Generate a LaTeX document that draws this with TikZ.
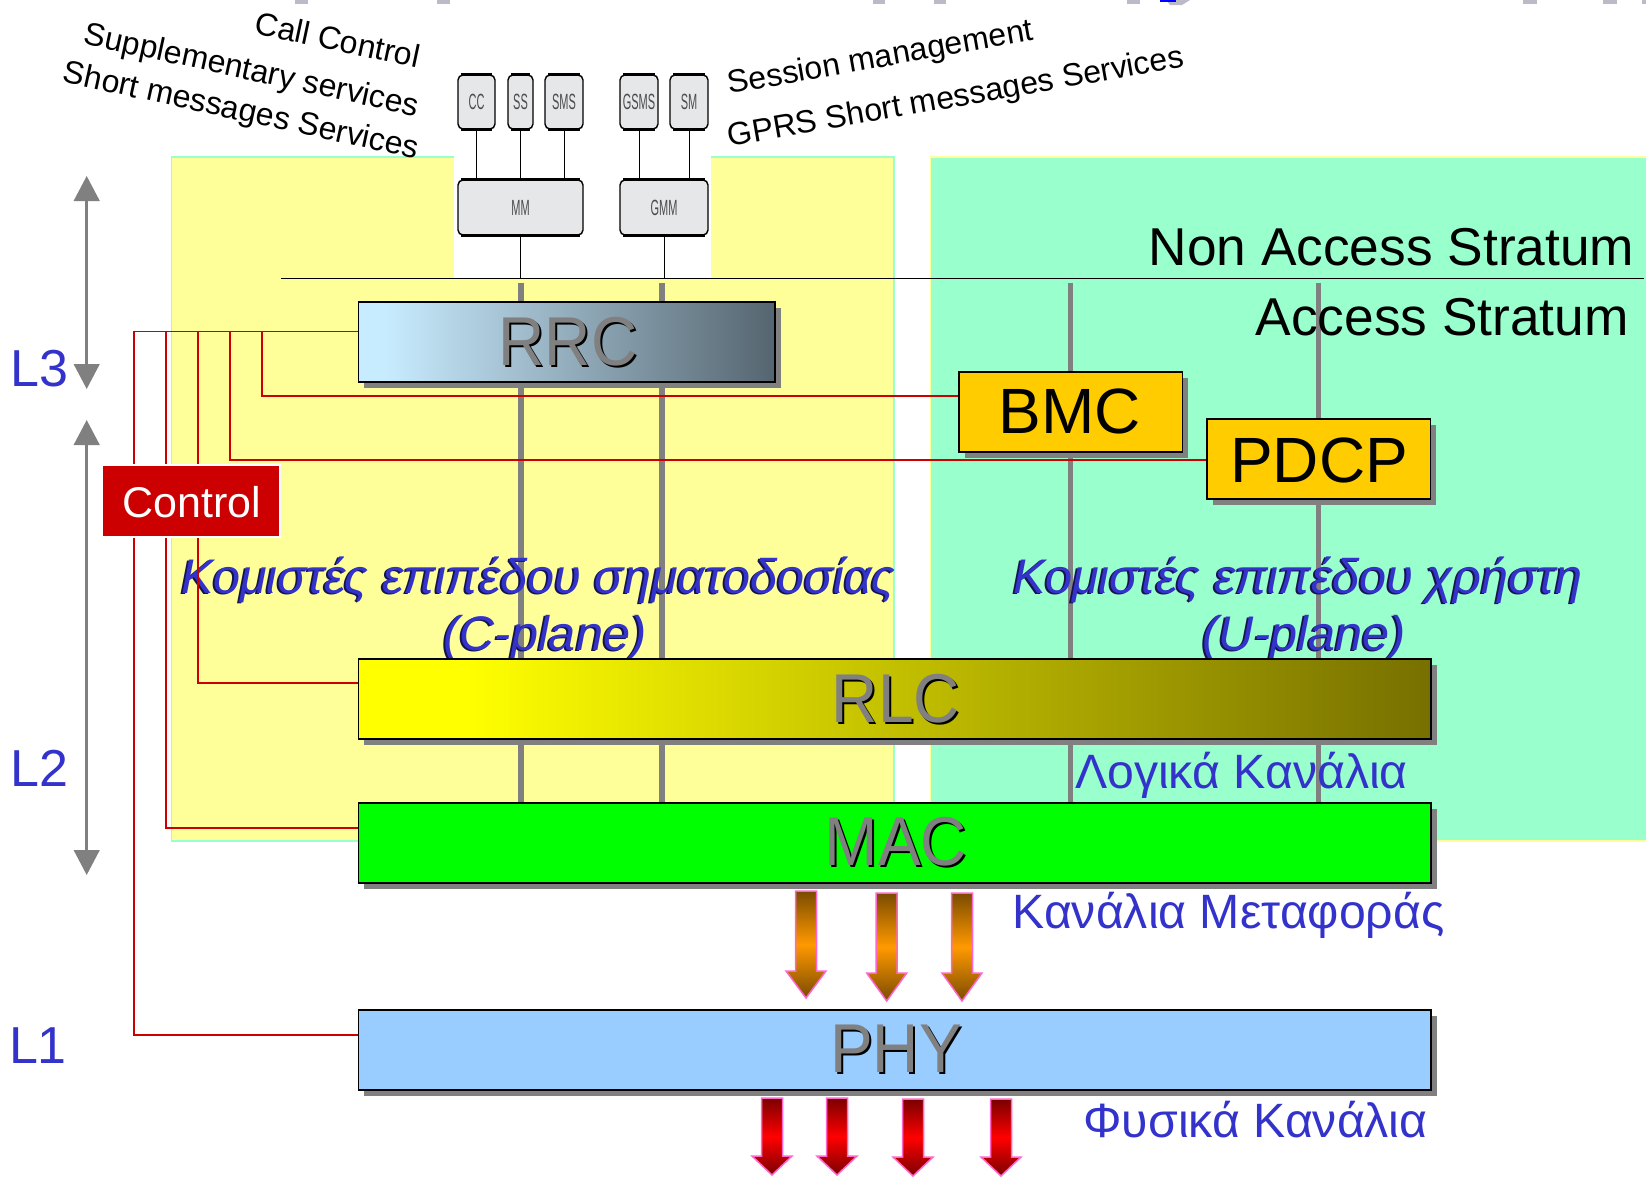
\documentclass[tikz,border=0pt]{standalone}
\usepackage{fontspec}
\setmainfont{Liberation Sans}
\usetikzlibrary{arrows.meta,shadows,calc}
\definecolor{blueT}{HTML}{3333CC}
\definecolor{shadowT}{HTML}{14144A}
\definecolor{yel}{HTML}{FFFF99}
\definecolor{grn}{HTML}{99FFCC}
\definecolor{gry}{HTML}{808080}
\definecolor{redL}{HTML}{CC0000}
\definecolor{pinkB}{HTML}{FF66CC}
\definecolor{rrcA}{HTML}{C8ECFF}
\definecolor{rrcB}{HTML}{A0BCCC}
\definecolor{rrcC}{HTML}{556570}
\definecolor{rlcA}{HTML}{FFFF00}
\definecolor{rlcB}{HTML}{777000}
\definecolor{orgD}{HTML}{7A4B00}
\definecolor{orgM}{HTML}{FF9900}
\definecolor{redD}{HTML}{7A0000}
\definecolor{redM}{HTML}{FF0000}
\definecolor{boxG}{HTML}{E6E7E9}
\definecolor{blob}{HTML}{BBBBC8}
\definecolor{macG}{HTML}{00FF00}
\definecolor{phyB}{HTML}{99CCFF}
\definecolor{amb}{HTML}{FFCC00}
\pgfdeclarehorizontalshading{rrcshade}{100bp}{color(0bp)=(rrcA); color(28bp)=(rrcA); color(45bp)=(rrcB); color(75bp)=(rrcC); color(100bp)=(rrcC)}
\pgfdeclarehorizontalshading{rlcshade}{100bp}{color(0bp)=(rlcA); color(30bp)=(rlcA); color(75bp)=(rlcB); color(100bp)=(rlcB)}
\newcommand{\fsz}[1]{\fontsize{#1}{#1}\selectfont}
\tikzset{
  layerbox/.style={draw=black,line width=1.5pt,inner sep=0pt,
    general shadow={fill=gry,shadow xshift=5.5pt,shadow yshift=-5.5pt}},
  label base/.style={inner sep=0pt,anchor=base},
  greyline/.style={draw=gry,line width=5.4pt},
  redline/.style={draw=redL,line width=1.4pt},
  thinline/.style={draw=black,line width=1pt},
  levelarrow/.style={draw=gry,line width=3pt,{Triangle[width=25.5pt,length=25pt]}-{Triangle[width=25.5pt,length=25pt]}},
  smallbox/.style={draw=black,line width=1.4pt,fill=boxG,rounded corners=5pt,inner sep=0pt},
  blacklabel/.style={inner sep=0pt,text=black,font=\fsz{32}},
  blueplain/.style={label base,text=blueT,font=\fsz{48.2}},
  levellabel/.style={label base,text=blueT,font=\fsz{52}},
  blocklabel/.style={label base,font=\fsz{64}},
}
% name, cx, cy, w, h, label
\newcommand{\svcbox}[6]{%
  \node[smallbox,minimum width=#4pt,minimum height=#5pt] (#1) at (#2,#3) {\fsz{22}\scalebox{0.5}[1]{\textcolor{black!70}{#6}}};
  \draw[line width=3pt] ([xshift=4pt,yshift=-0.5pt]#1.north west) -- ([xshift=-4pt,yshift=-0.5pt]#1.north east);
  \draw[line width=3pt] ([xshift=4pt,yshift=0.5pt]#1.south west) -- ([xshift=-4pt,yshift=0.5pt]#1.south east);
}
% name, x, baseline, anchor, text
\newcommand{\planetext}[5]{%
  \node[inner sep=0pt,anchor=#4,text=shadowT,font=\fsz{48.6}\itshape] (#1s) at ({#2-2},{#3+1.8}) {#5};
  \node[inner sep=0pt,anchor=#4,text=blueT,font=\fsz{48.6}\itshape] (#1) at (#2,#3) {#5};
}
% name, x, baseline, text (vertically stretched as in the reference)
\newcommand{\blocktext}[4]{%
  \node[blocklabel,text=black] (#1s) at ({#2+2},{#3}) {\scalebox{1}[1.08]{#4}};
  \node[blocklabel,text=gry] (#1) at (#2,{#3-2}) {\scalebox{1}[1.08]{#4}};
}
% cx, top, base, tip, dark, mid
\newcommand{\chanarrow}[6]{%
  \path[draw=pinkB,line width=1.5pt,top color=#5,bottom color=#5,middle color=#6]
    ({#1-10.5},#2) -- ({#1+10.5},#2) -- ({#1+10.5},#3) -- ({#1+20},#3) -- (#1,#4) -- ({#1-20},#3) -- ({#1-10.5},#3) -- cycle;
}
\begin{document}
\begin{tikzpicture}[x=1pt,y=-1pt]
\useasboundingbox (0,0) rectangle (1646,1178);
% cropped title remnants at the top edge
\foreach \a/\b in {295/308,437/450,873/885,934/946,1127/1140,1523/1537,1603/1617}
  \fill[blob] (\a,0) rectangle (\b,4);
\fill[blob] (1166,0) -- (1190,0) -- (1182,5) -- (1170,5) -- cycle;
\fill[blue] (1160,0) rectangle (1176,1.5);
\fill[blob] (1642,0) rectangle (1646,4);
% plane backgrounds
\draw[draw=grn,line width=1.5pt,fill=yel] (171.5,157) rectangle (894,841);
\draw[draw=yel,line width=1.5pt,fill=grn] (930.5,157) rectangle (1650,841);
\fill[white] (454,150) rectangle (711,277.5);
% stratum line
\coordinate (strL) at (281,278.5);
\coordinate (strR) at (1644,278.5);
\draw[line width=1.3pt] (strL) -- (strR);
% NAS boxes
\svcbox{CC}{476.5}{102}{37}{54}{CC}
\svcbox{SS}{520.5}{102}{25}{54}{SS}
\svcbox{SMS}{564}{102}{38}{54}{SMS}
\svcbox{GSMS}{639}{102}{38}{54}{GSMS}
\svcbox{SM}{689}{102}{38}{54}{SM}
\svcbox{MM}{520.5}{207.5}{125}{55}{MM}
\svcbox{GMM}{664}{207.5}{88}{55}{GMM}
\draw[thinline] (CC.south) -- (CC.south |- MM.north);
\draw[thinline] (SS.south) -- (SS.south |- MM.north);
\draw[thinline] (SMS.south) -- (SMS.south |- MM.north);
\draw[thinline] (GSMS.south) -- (GSMS.south |- GMM.north);
\draw[thinline] (SM.south) -- (SM.south |- GMM.north);
\draw[thinline] (MM.south) -- (MM.south |- strL);
\draw[thinline] (GMM.south) -- (GMM.south |- strL);
% protocol bearers
\coordinate (b1) at (521,283);
\coordinate (b2) at (662,283);
\coordinate (b3) at (1070.4,283);
\coordinate (b4) at (1318.4,283);
\coordinate (macTop) at (0,803);
\foreach \b in {b1,b2,b3,b4} \draw[greyline] (\b) -- (\b |- macTop);
% labels under the boxes
\planetext{cplA}{181}{593}{base west}{Κομιστές επιπέδου σηματοδοσίας}
\planetext{cplB}{545}{650}{base}{(C-plane)}
\planetext{uplA}{1013}{593}{base west}{Κομιστές επιπέδου χρήστη}
\planetext{uplB}{1304}{650}{base}{(U-plane)}
\node[label base,font=\fsz{53.3}] (nas) at (1391.5,265) {Non Access Stratum};
\node[label base,font=\fsz{53.3},anchor=base east] (as) at (1629,335) {Access Stratum};
\node[blueplain] (logical) at (1241.5,788) {Λογικά Κανάλια};
\node[blueplain] (transport) at (1228.5,928) {Κανάλια Μεταφοράς};
\node[blueplain] (physical) at (1255.5,1137) {Φυσικά Κανάλια};
% layers
\node[layerbox,shading=rrcshade,minimum width=416.3pt,minimum height=80pt] (RRC) at (566.85,342) {};
\node[layerbox,shading=rlcshade,minimum width=1072.3pt,minimum height=80pt] (RLC) at (894.85,699) {};
\node[layerbox,fill=macG,minimum width=1072.3pt,minimum height=80pt] (MAC) at (894.85,843) {};
\node[layerbox,fill=phyB,minimum width=1072.3pt,minimum height=80pt] (PHY) at (894.85,1050) {};
\node[layerbox,fill=amb,minimum width=223.7pt,minimum height=80pt] (BMC) at (1070.85,412) {};
\node[layerbox,fill=amb,minimum width=223.6pt,minimum height=80pt] (PDCP) at (1318.8,459) {};
\blocktext{rrcT}{568}{367}{RRC}
\blocktext{rlcT}{896}{724}{RLC}
\blocktext{macT}{896}{867}{MAC}
\blocktext{phyT}{896}{1074}{PHY}
\node[blocklabel] (bmcT) at (1070,433) {BMC};
\node[blocklabel] (pdcpT) at (1319,482) {PDCP};
% control lines
\coordinate (tap) at ([yshift=10.3pt]RRC.west);
\coordinate (v1) at (134,0);
\coordinate (v2) at (166,0);
\coordinate (v3) at (198,0);
\coordinate (v4) at (230,0);
\coordinate (v5) at (262,0);
\draw[redline] (tap) -- (v1 |- tap) |- ([yshift=15pt]PHY.west);
\draw[redline] (v2 |- tap) |- ([yshift=15pt]MAC.west);
\draw[redline] (v3 |- tap) |- ([yshift=16pt]RLC.west);
\draw[redline] (v4 |- tap) |- ([yshift=-1pt]PDCP.west);
\draw[redline] (v5 |- tap) |- ([yshift=16pt]BMC.west);
\node[draw=white,line width=2pt,fill=redL,minimum width=178.5pt,minimum height=72pt,inner sep=0pt] (control) at (191,501) {};
\node[label base,text=white,font=\fsz{43}] (controlT) at (191.5,517) {Control};
% level arrows
\coordinate (l3a) at (86.7,176);
\coordinate (l3b) at (86.7,389);
\coordinate (l2a) at (86.7,420);
\coordinate (l2b) at (86.7,875);
\draw[levelarrow] (l3a) -- (l3b);
\draw[levelarrow] (l2a) -- (l2b);
\node[levellabel] (L3) at (39.5,386) {L3};
\node[levellabel] (L2) at (39.5,786) {L2};
\node[levellabel] (L1) at (38,1063.5) {L1};
% channel arrows
\chanarrow{806}{891}{971}{998}{orgD}{orgM}
\chanarrow{886.7}{893}{973}{1001}{orgD}{orgM}
\chanarrow{962}{893}{973}{1001}{orgD}{orgM}
\chanarrow{772}{1098}{1156}{1175}{redD}{redM}
\chanarrow{837}{1098}{1156}{1175}{redD}{redM}
\chanarrow{913}{1099}{1157}{1176}{redD}{redM}
\chanarrow{1001}{1099}{1157}{1176}{redD}{redM}
% rotated captions
\node[blacklabel,anchor=base east,rotate=-12] (ctl1) at (417.5,68) {Call Control};
\node[blacklabel,anchor=base east,rotate=-12.3] (ctl2) at (416.5,116.5) {Supplementary services};
\node[blacklabel,anchor=base east,rotate=-12.3] (ctl3) at (416.5,159) {Short messages Services};
\node[blacklabel,anchor=base west,rotate=10] (ses1) at (729.5,94) {Session management};
\node[blacklabel,anchor=base west,rotate=10] (ses2) at (729.5,147) {GPRS Short messages Services};
\end{tikzpicture}
\end{document}
